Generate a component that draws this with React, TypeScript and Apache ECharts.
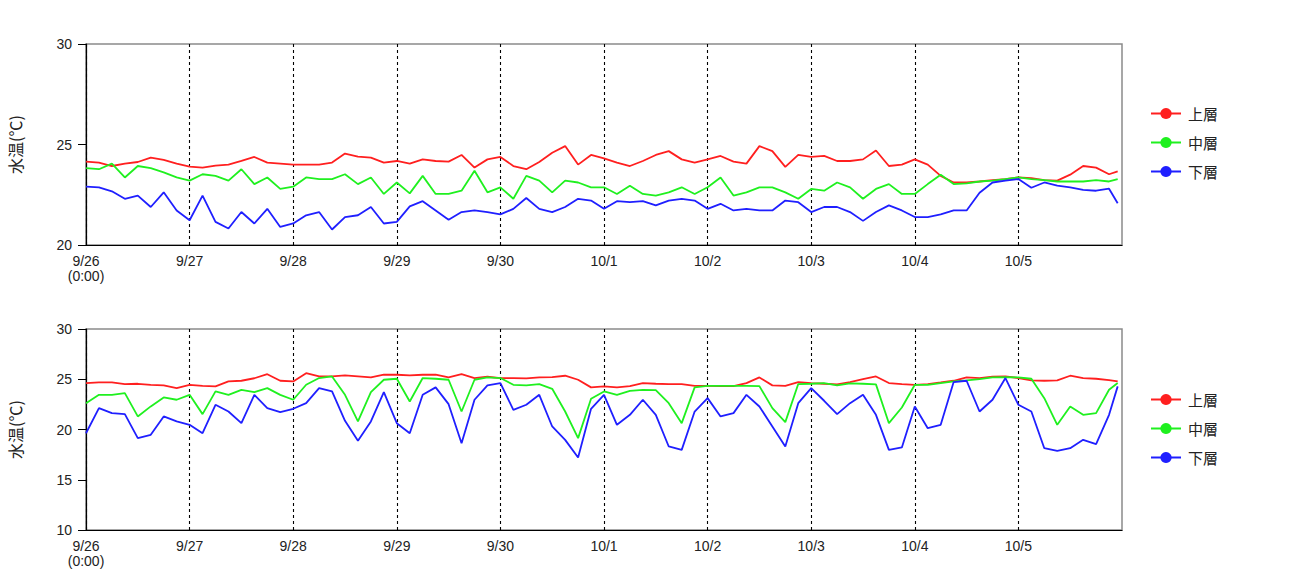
import React, { useEffect, useRef } from 'react';
import * as echarts from 'echarts';

// sampling hours (every 3 h, plus the final reading at 239 h)
const HOURS: number[] = Array.from({ length: 80 }, (_, i) => i * 3).concat([239]);

const DAY_LABELS = ['9/26\n(0:00)', '9/27', '9/28', '9/29', '9/30', '10/1', '10/2', '10/3', '10/4', '10/5'];
const SERIES_NAMES = ['上層', '中層', '下層'];
const COLORS = ['#ff1f1f', '#1ff01f', '#1f1fff'];
const TOP_Y_TICKS = { min: 20, max: 30, interval: 5 };
const BOTTOM_Y_TICKS = { min: 10, max: 30, interval: 5 };

// upper chart
const TOP_UPPER = [
  24.15, 24.1, 23.93, 24.05, 24.13, 24.35, 24.23, 24.05, 23.9, 23.85,
  23.95, 24.0, 24.18, 24.38, 24.1, 24.05, 24.0, 24.0, 24.0, 24.1,
  24.55, 24.4, 24.35, 24.1, 24.18, 24.05, 24.26, 24.18, 24.15, 24.48,
  23.85, 24.26, 24.38, 23.93, 23.77, 24.13, 24.59, 24.92, 24.0, 24.48,
  24.31, 24.1, 23.93, 24.18, 24.48, 24.67, 24.26, 24.1, 24.26, 24.43,
  24.15, 24.05, 24.92, 24.67, 23.89, 24.48, 24.38, 24.43, 24.18, 24.18,
  24.26, 24.7, 23.93, 24.0, 24.26, 24.0, 23.44, 23.11, 23.11, 23.16,
  23.23, 23.28, 23.36, 23.33, 23.23, 23.2, 23.5, 23.93, 23.85, 23.52,
  23.66,
];
const TOP_MIDDLE = [
  23.82, 23.77, 24.05, 23.36, 23.93, 23.82, 23.61, 23.36, 23.2, 23.52,
  23.44, 23.2, 23.77, 23.03, 23.36, 22.79, 22.9, 23.36, 23.28, 23.28,
  23.52, 23.03, 23.36, 22.54, 23.11, 22.57, 23.44, 22.54, 22.54, 22.7,
  23.69, 22.62, 22.87, 22.3, 23.44, 23.2, 22.62, 23.2, 23.11, 22.87,
  22.87, 22.54, 22.95, 22.54, 22.46, 22.62, 22.87, 22.54, 22.87, 23.36,
  22.46, 22.62, 22.87, 22.87, 22.62, 22.3, 22.79, 22.7, 23.11, 22.87,
  22.3, 22.79, 23.03, 22.54, 22.54, 23.03, 23.5, 23.03, 23.07, 23.16,
  23.2, 23.28, 23.36, 23.28, 23.23, 23.16, 23.16, 23.16, 23.23, 23.16,
  23.28,
];
const TOP_LOWER = [
  22.9, 22.87, 22.67, 22.3, 22.46, 21.89, 22.62, 21.72, 21.23, 22.46,
  21.15, 20.82, 21.64, 21.07, 21.8, 20.9, 21.07, 21.48, 21.64, 20.77,
  21.39, 21.48, 21.89, 21.07, 21.15, 21.92, 22.18, 21.72, 21.26, 21.64,
  21.72, 21.64, 21.52, 21.8, 22.34, 21.8, 21.64, 21.89, 22.3, 22.21,
  21.8, 22.18, 22.13, 22.18, 21.97, 22.21, 22.3, 22.21, 21.8, 22.05,
  21.72, 21.8, 21.72, 21.72, 22.21, 22.13, 21.64, 21.89, 21.89, 21.64,
  21.2, 21.64, 21.97, 21.72, 21.39, 21.39, 21.52, 21.72, 21.72, 22.6,
  23.11, 23.2, 23.28, 22.85, 23.11, 22.95, 22.87, 22.74, 22.7, 22.8,
  22.08,
];

// lower chart
const BOTTOM_UPPER = [
  24.62, 24.68, 24.68, 24.52, 24.55, 24.45, 24.39, 24.12, 24.45, 24.35,
  24.29, 24.78, 24.85, 25.1, 25.5, 24.85, 24.78, 25.6, 25.28, 25.28,
  25.38, 25.28, 25.18, 25.45, 25.45, 25.38, 25.45, 25.45, 25.18, 25.51,
  25.12, 25.25, 25.12, 25.12, 25.08, 25.18, 25.22, 25.35, 24.95, 24.19,
  24.29, 24.19, 24.32, 24.62, 24.55, 24.52, 24.52, 24.35, 24.35, 24.32,
  24.32, 24.62, 25.18, 24.39, 24.35, 24.72, 24.62, 24.55, 24.49, 24.72,
  25.02, 25.28, 24.62, 24.52, 24.45, 24.52, 24.68, 24.85, 25.18, 25.12,
  25.25, 25.28, 25.12, 24.88, 24.85, 24.88, 25.35, 25.12, 25.05, 24.92,
  24.78,
];
const BOTTOM_MIDDLE = [
  22.62, 23.45, 23.45, 23.62, 21.3, 22.3, 23.19, 22.96, 23.45, 21.53,
  23.79, 23.45, 23.95, 23.72, 24.12, 23.45, 22.96, 24.45, 25.12, 25.28,
  23.45, 20.8, 23.72, 24.95, 25.05, 22.79, 25.12, 25.05, 24.95, 21.79,
  24.95, 25.18, 25.12, 24.45, 24.39, 24.52, 24.05, 21.79, 19.14, 23.06,
  23.79, 23.45, 23.85, 23.95, 23.92, 22.62, 20.63, 24.19, 24.35, 24.35,
  24.35, 24.35, 24.32, 22.13, 20.73, 24.52, 24.55, 24.62, 24.39, 24.59,
  24.55, 24.49, 20.63, 22.19, 24.45, 24.45, 24.62, 24.78, 24.88, 25.02,
  25.18, 25.22, 25.18, 25.05, 23.12, 20.47, 22.29, 21.46, 21.63, 23.95,
  24.62,
];
const BOTTOM_LOWER = [
  19.63, 22.13, 21.63, 21.53, 19.14, 19.47, 21.3, 20.8, 20.47, 19.63,
  22.46, 21.79, 20.63, 23.45, 22.13, 21.73, 22.06, 22.62, 24.12, 23.79,
  20.86, 18.87, 20.8, 23.72, 20.63, 19.63, 23.45, 24.19, 22.52, 18.64,
  22.96, 24.39, 24.62, 21.96, 22.46, 23.45, 20.3, 18.97, 17.21, 22.06,
  23.45, 20.47, 21.46, 22.96, 21.46, 18.31, 17.97, 21.79, 23.12, 21.3,
  21.63, 23.45, 22.29, 20.3, 18.31, 22.62, 24.12, 22.86, 21.53, 22.62,
  23.45, 21.46, 17.97, 18.21, 22.29, 20.13, 20.47, 24.72, 24.85, 21.79,
  22.96, 25.12, 22.46, 21.79, 18.14, 17.87, 18.14, 18.97, 18.54, 21.46,
  24.29,
];

const FONT = '"Liberation Sans", Arial, "Noto Sans CJK JP", sans-serif';
const CJK_FONT = '"Noto Sans CJK JP", "Liberation Sans", sans-serif';

export default function App() {
  const ref = useRef<HTMLDivElement>(null);

  useEffect(() => {
    if (!ref.current) return;
    const chart = echarts.init(ref.current, null, { renderer: 'svg' });
    const pair = (vals: number[]) => HOURS.map((h, i) => [h, vals[i]]);

    const gridBox = (top: number) => ({
      left: 86,
      top,
      width: 1036,
      height: 201,
      containLabel: false,
      outerBoundsMode: 'none',
      show: true,
      borderColor: '#8a8a8a',
      borderWidth: 1.5,
      backgroundColor: 'transparent',
    });

    const xAxis = (gridIndex: number) => ({
      type: 'value',
      gridIndex,
      min: 0,
      max: 240,
      interval: 24,
      axisLine: { show: true, onZero: false, lineStyle: { color: '#000', width: 1.2 } },
      axisTick: { show: false },
      axisLabel: {
        formatter: (v: number) => DAY_LABELS[Math.round(v / 24)] ?? '',
        fontSize: 14,
        color: '#222',
        margin: 8,
        lineHeight: 15,
        fontFamily: FONT,
      },
      splitLine: {
        show: true,
        showMinLine: true,
        showMaxLine: false,
        lineStyle: { type: [3, 3], color: '#000', width: 1.1 },
      },
    });

    const yAxis = (gridIndex: number, ticks: { min: number; max: number; interval: number }) => ({
      type: 'value',
      gridIndex,
      min: ticks.min,
      max: ticks.max,
      interval: ticks.interval,
      name: '水温(℃)',
      nameLocation: 'middle',
      nameGap: 63,
      nameTextStyle: { fontSize: 16, color: '#222', fontFamily: CJK_FONT },
      axisLine: { show: true, lineStyle: { color: '#000', width: 1.2 } },
      axisTick: { show: true, inside: false, length: 8, lineStyle: { color: '#000' } },
      axisLabel: { fontSize: 14, color: '#222', margin: 14, fontFamily: FONT },
      splitLine: { show: false },
    });

    const legend = (top: number) => ({
      orient: 'vertical',
      left: 1145,
      top,
      itemWidth: 30,
      itemHeight: 14,
      itemGap: 14,
      data: SERIES_NAMES,
      textStyle: { fontSize: 15, color: '#222', fontFamily: CJK_FONT, padding: [0, 0, 0, 2] },
    });

    const topData = [TOP_UPPER, TOP_MIDDLE, TOP_LOWER];
    const bottomData = [BOTTOM_UPPER, BOTTOM_MIDDLE, BOTTOM_LOWER];

    const mk = (vals: number[], idx: number, grid: number) => ({
      name: SERIES_NAMES[idx],
      type: 'line',
      xAxisIndex: grid,
      yAxisIndex: grid,
      data: pair(vals),
      symbol: 'circle',
      symbolSize: 10,
      showSymbol: false,
      smooth: false,
      itemStyle: { color: COLORS[idx] },
      lineStyle: { color: COLORS[idx], width: 1.8 },
      emphasis: { disabled: true },
    });

    chart.setOption({
      animation: false,
      backgroundColor: '#fff',
      textStyle: { fontFamily: FONT },
      grid: [gridBox(44), gridBox(329)],
      xAxis: [xAxis(0), xAxis(1)],
      yAxis: [yAxis(0, TOP_Y_TICKS), yAxis(1, BOTTOM_Y_TICKS)],
      legend: [legend(101), legend(387)],
      series: [
        ...topData.map((v, i) => mk(v, i, 0)),
        ...bottomData.map((v, i) => mk(v, i, 1)),
      ],
    });

    return () => chart.dispose();
  }, []);

  return (
    <div
      ref={ref}
      style={{ position: 'fixed', left: 0, top: 0, width: 1300, height: 571, background: '#fff' }}
    />
  );
}
